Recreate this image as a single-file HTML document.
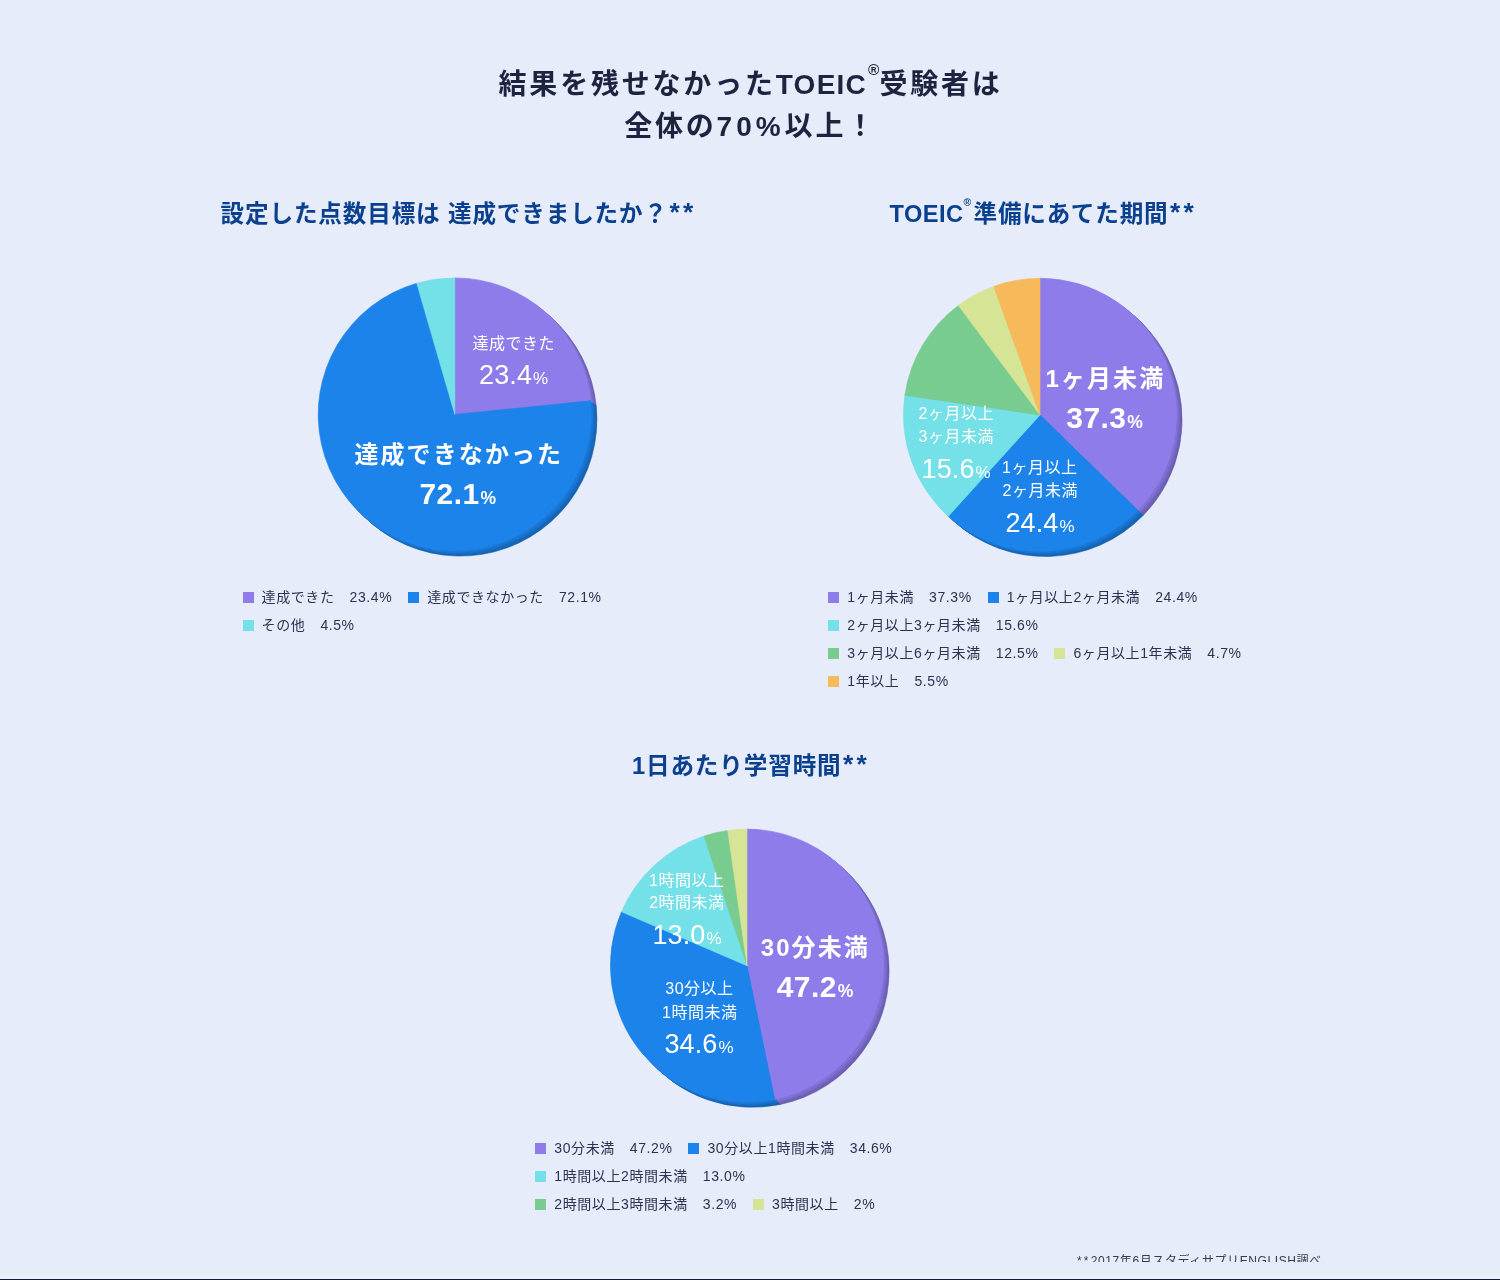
<!DOCTYPE html>
<html lang="ja"><head><meta charset="utf-8"><title>TOEIC</title>
<style>
html,body{margin:0;padding:0}
body{width:1500px;height:1280px;position:relative;overflow:hidden;background:#e6ecfa;font-family:"Liberation Sans", "Noto Sans CJK JP", sans-serif;color:#1d2440}
.bg{position:absolute;left:0;top:0;width:1500px;height:1280px;background:#e6ecfa}
.bar{position:absolute;left:0;top:1262px;width:1500px;height:18px;background:linear-gradient(180deg,#e6ecfa 0,#e2eff4 13px,#e2eff4 14px,#eaf3fd 15px,#eaf3fd 17px,#171d31 17px,#171d31 18px)}
.pies{position:absolute;left:0;top:0}
.t{position:absolute;white-space:nowrap}
.c{transform:translateX(-50%);text-align:center}
.h1{font-size:28px;font-weight:700;line-height:42px;letter-spacing:2.8px;color:#1d2440}
.h1 sup,.h2 sup{font-size:.55em;line-height:0;vertical-align:baseline;position:relative;top:-1.28em;letter-spacing:0;margin:0 0 0 1px}
.h2 sup{font-size:.44em;top:-1.58em;margin:0 2.2px 0 0}
.h2 .la{letter-spacing:.02em}
.la{letter-spacing:.045em}
.h2{font-size:23.6px;font-weight:700;line-height:34px;letter-spacing:.85px;color:#0b408f}
.as{letter-spacing:3.2px;margin-left:1.5px;font-size:1.12em;line-height:0;position:relative;top:-1.5px}
.lb{color:#fff;line-height:30px}
.lb i{font-style:normal}
.lb.s{font-size:16px;letter-spacing:.5px}
.lb.sp{font-size:27px;letter-spacing:.1px}
.lb.sp i{font-size:17px;letter-spacing:0;margin-left:1px}
.lb.b{font-size:24px;font-weight:700;letter-spacing:2.1px}
.lb.bp{font-size:30px;font-weight:700;letter-spacing:.4px}
.lb.bp i{font-size:17.5px;letter-spacing:0;margin-left:1px}
.lg{position:absolute;font-size:14px;line-height:28px;color:#2b3350;white-space:nowrap;letter-spacing:.59px}
.lg .row{height:28px}
.lg .it{display:inline-block;margin-right:16px}
.lg .it b{display:inline-block;width:11px;height:11px;margin-right:8px;vertical-align:-1px}
.lg .it em{font-style:normal;margin-left:15px}
.note{font-size:12px;line-height:16px;color:#333a55;letter-spacing:.6px}
</style></head>
<body>
<div class="bg"></div>
<svg class="pies" width="1500" height="1280" viewBox="0 0 1500 1280">
<path d="M460.30 419.50L460.30 282.90A136.6 136.6 0 0 1 596.21 405.79Z" fill="#695cad" stroke="#695cad" stroke-width="0.6"/>
<path d="M460.30 419.50L596.21 405.79A136.6 136.6 0 1 1 422.19 288.32Z" fill="#1561ad" stroke="#1561ad" stroke-width="0.6"/>
<path d="M460.30 419.50L422.19 288.32A136.6 136.6 0 0 1 460.30 282.90Z" fill="#56a6ac" stroke="#56a6ac" stroke-width="0.6"/>
<path d="M459.20 418.50L459.20 281.90A136.6 136.6 0 0 1 595.11 404.79Z" fill="#6f61b7" stroke="#6f61b7" stroke-width="0.6"/>
<path d="M459.20 418.50L595.11 404.79A136.6 136.6 0 1 1 421.09 287.32Z" fill="#1666b7" stroke="#1666b7" stroke-width="0.6"/>
<path d="M459.20 418.50L421.09 287.32A136.6 136.6 0 0 1 459.20 281.90Z" fill="#5aafb5" stroke="#5aafb5" stroke-width="0.6"/>
<path d="M458.10 417.50L458.10 280.90A136.6 136.6 0 0 1 594.01 403.79Z" fill="#7667c2" stroke="#7667c2" stroke-width="0.6"/>
<path d="M458.10 417.50L594.01 403.79A136.6 136.6 0 1 1 419.99 286.32Z" fill="#176dc2" stroke="#176dc2" stroke-width="0.6"/>
<path d="M458.10 417.50L419.99 286.32A136.6 136.6 0 0 1 458.10 280.90Z" fill="#60bac1" stroke="#60bac1" stroke-width="0.6"/>
<path d="M456.73 416.25L456.73 279.65A136.6 136.6 0 0 1 592.64 402.54Z" fill="#8070d3" stroke="#8070d3" stroke-width="0.6"/>
<path d="M456.73 416.25L592.64 402.54A136.6 136.6 0 1 1 418.61 285.07Z" fill="#1976d3" stroke="#1976d3" stroke-width="0.6"/>
<path d="M456.73 416.25L418.61 285.07A136.6 136.6 0 0 1 456.72 279.65Z" fill="#68cad1" stroke="#68cad1" stroke-width="0.6"/>
<path d="M454.80 414.50L454.80 277.90A136.6 136.6 0 0 1 590.71 400.79Z" fill="#8e7cea" stroke="#8e7cea" stroke-width="0.6"/>
<path d="M454.80 414.50L590.71 400.79A136.6 136.6 0 1 1 416.69 283.32Z" fill="#1c83ea" stroke="#1c83ea" stroke-width="0.6"/>
<path d="M454.80 414.50L416.69 283.32A136.6 136.6 0 0 1 454.80 277.90Z" fill="#74e0e8" stroke="#74e0e8" stroke-width="0.6"/>

<path d="M1045.50 419.90L1045.50 283.30A136.6 136.6 0 0 1 1143.30 515.27Z" fill="#695cad" stroke="#695cad" stroke-width="0.6"/>
<path d="M1045.50 419.90L1143.30 515.27A136.6 136.6 0 0 1 953.88 521.22Z" fill="#1561ad" stroke="#1561ad" stroke-width="0.6"/>
<path d="M1045.50 419.90L953.88 521.22A136.6 136.6 0 0 1 910.32 400.23Z" fill="#56a6ac" stroke="#56a6ac" stroke-width="0.6"/>
<path d="M1045.50 419.90L910.32 400.23A136.6 136.6 0 0 1 963.83 310.41Z" fill="#5a976b" stroke="#5a976b" stroke-width="0.6"/>
<path d="M1045.50 419.90L963.83 310.41A136.6 136.6 0 0 1 999.23 291.38Z" fill="#9ea96e" stroke="#9ea96e" stroke-width="0.6"/>
<path d="M1045.50 419.90L999.23 291.38A136.6 136.6 0 0 1 1045.50 283.30Z" fill="#b68a43" stroke="#b68a43" stroke-width="0.6"/>
<path d="M1044.40 418.90L1044.40 282.30A136.6 136.6 0 0 1 1142.20 514.27Z" fill="#6f61b7" stroke="#6f61b7" stroke-width="0.6"/>
<path d="M1044.40 418.90L1142.20 514.27A136.6 136.6 0 0 1 952.78 520.22Z" fill="#1666b7" stroke="#1666b7" stroke-width="0.6"/>
<path d="M1044.40 418.90L952.78 520.22A136.6 136.6 0 0 1 909.22 399.23Z" fill="#5aafb5" stroke="#5aafb5" stroke-width="0.6"/>
<path d="M1044.40 418.90L909.22 399.23A136.6 136.6 0 0 1 962.73 309.41Z" fill="#5e9f70" stroke="#5e9f70" stroke-width="0.6"/>
<path d="M1044.40 418.90L962.73 309.41A136.6 136.6 0 0 1 998.13 290.38Z" fill="#a6b274" stroke="#a6b274" stroke-width="0.6"/>
<path d="M1044.40 418.90L998.13 290.38A136.6 136.6 0 0 1 1044.40 282.30Z" fill="#c09147" stroke="#c09147" stroke-width="0.6"/>
<path d="M1043.30 417.90L1043.30 281.30A136.6 136.6 0 0 1 1141.10 513.27Z" fill="#7667c2" stroke="#7667c2" stroke-width="0.6"/>
<path d="M1043.30 417.90L1141.10 513.27A136.6 136.6 0 0 1 951.68 519.22Z" fill="#176dc2" stroke="#176dc2" stroke-width="0.6"/>
<path d="M1043.30 417.90L951.68 519.22A136.6 136.6 0 0 1 908.12 398.23Z" fill="#60bac1" stroke="#60bac1" stroke-width="0.6"/>
<path d="M1043.30 417.90L908.12 398.23A136.6 136.6 0 0 1 961.63 308.41Z" fill="#64a978" stroke="#64a978" stroke-width="0.6"/>
<path d="M1043.30 417.90L961.63 308.41A136.6 136.6 0 0 1 997.03 289.38Z" fill="#b1bd7c" stroke="#b1bd7c" stroke-width="0.6"/>
<path d="M1043.30 417.90L997.03 289.38A136.6 136.6 0 0 1 1043.30 281.30Z" fill="#cc9a4c" stroke="#cc9a4c" stroke-width="0.6"/>
<path d="M1041.92 416.65L1041.92 280.05A136.6 136.6 0 0 1 1139.72 512.02Z" fill="#8070d3" stroke="#8070d3" stroke-width="0.6"/>
<path d="M1041.92 416.65L1139.72 512.02A136.6 136.6 0 0 1 950.31 517.97Z" fill="#1976d3" stroke="#1976d3" stroke-width="0.6"/>
<path d="M1041.92 416.65L950.31 517.97A136.6 136.6 0 0 1 906.75 396.98Z" fill="#68cad1" stroke="#68cad1" stroke-width="0.6"/>
<path d="M1041.92 416.65L906.75 396.98A136.6 136.6 0 0 1 960.25 307.16Z" fill="#6db882" stroke="#6db882" stroke-width="0.6"/>
<path d="M1041.92 416.65L960.25 307.16A136.6 136.6 0 0 1 995.65 288.13Z" fill="#c0cd86" stroke="#c0cd86" stroke-width="0.6"/>
<path d="M1041.92 416.65L995.65 288.13A136.6 136.6 0 0 1 1041.92 280.05Z" fill="#dda752" stroke="#dda752" stroke-width="0.6"/>
<path d="M1040.00 414.90L1040.00 278.30A136.6 136.6 0 0 1 1137.80 510.27Z" fill="#8e7cea" stroke="#8e7cea" stroke-width="0.6"/>
<path d="M1040.00 414.90L1137.80 510.27A136.6 136.6 0 0 1 948.38 516.22Z" fill="#1c83ea" stroke="#1c83ea" stroke-width="0.6"/>
<path d="M1040.00 414.90L948.38 516.22A136.6 136.6 0 0 1 904.82 395.23Z" fill="#74e0e8" stroke="#74e0e8" stroke-width="0.6"/>
<path d="M1040.00 414.90L904.82 395.23A136.6 136.6 0 0 1 958.33 305.41Z" fill="#79cc90" stroke="#79cc90" stroke-width="0.6"/>
<path d="M1040.00 414.90L958.33 305.41A136.6 136.6 0 0 1 993.73 286.38Z" fill="#d5e495" stroke="#d5e495" stroke-width="0.6"/>
<path d="M1040.00 414.90L993.73 286.38A136.6 136.6 0 0 1 1040.00 278.30Z" fill="#f6ba5b" stroke="#f6ba5b" stroke-width="0.6"/>

<path d="M752.50 970.70L752.50 834.10A136.6 136.6 0 0 1 780.20 1104.46Z" fill="#695cad" stroke="#695cad" stroke-width="0.6"/>
<path d="M752.50 970.70L780.20 1104.46A136.6 136.6 0 0 1 626.96 916.84Z" fill="#1561ad" stroke="#1561ad" stroke-width="0.6"/>
<path d="M752.50 970.70L626.96 916.84A136.6 136.6 0 0 1 709.47 841.05Z" fill="#56a6ac" stroke="#56a6ac" stroke-width="0.6"/>
<path d="M752.50 970.70L709.47 841.05A136.6 136.6 0 0 1 733.25 835.46Z" fill="#5a976b" stroke="#5a976b" stroke-width="0.6"/>
<path d="M752.50 970.70L733.25 835.46A136.6 136.6 0 0 1 752.50 834.10Z" fill="#9ea96e" stroke="#9ea96e" stroke-width="0.6"/>
<path d="M751.40 969.70L751.40 833.10A136.6 136.6 0 0 1 779.10 1103.46Z" fill="#6f61b7" stroke="#6f61b7" stroke-width="0.6"/>
<path d="M751.40 969.70L779.10 1103.46A136.6 136.6 0 0 1 625.86 915.84Z" fill="#1666b7" stroke="#1666b7" stroke-width="0.6"/>
<path d="M751.40 969.70L625.86 915.84A136.6 136.6 0 0 1 708.37 840.05Z" fill="#5aafb5" stroke="#5aafb5" stroke-width="0.6"/>
<path d="M751.40 969.70L708.37 840.05A136.6 136.6 0 0 1 732.15 834.46Z" fill="#5e9f70" stroke="#5e9f70" stroke-width="0.6"/>
<path d="M751.40 969.70L732.15 834.46A136.6 136.6 0 0 1 751.40 833.10Z" fill="#a6b274" stroke="#a6b274" stroke-width="0.6"/>
<path d="M750.30 968.70L750.30 832.10A136.6 136.6 0 0 1 778.00 1102.46Z" fill="#7667c2" stroke="#7667c2" stroke-width="0.6"/>
<path d="M750.30 968.70L778.00 1102.46A136.6 136.6 0 0 1 624.76 914.84Z" fill="#176dc2" stroke="#176dc2" stroke-width="0.6"/>
<path d="M750.30 968.70L624.76 914.84A136.6 136.6 0 0 1 707.27 839.05Z" fill="#60bac1" stroke="#60bac1" stroke-width="0.6"/>
<path d="M750.30 968.70L707.27 839.05A136.6 136.6 0 0 1 731.05 833.46Z" fill="#64a978" stroke="#64a978" stroke-width="0.6"/>
<path d="M750.30 968.70L731.05 833.46A136.6 136.6 0 0 1 750.30 832.10Z" fill="#b1bd7c" stroke="#b1bd7c" stroke-width="0.6"/>
<path d="M748.92 967.45L748.92 830.85A136.6 136.6 0 0 1 776.63 1101.21Z" fill="#8070d3" stroke="#8070d3" stroke-width="0.6"/>
<path d="M748.92 967.45L776.63 1101.21A136.6 136.6 0 0 1 623.39 913.59Z" fill="#1976d3" stroke="#1976d3" stroke-width="0.6"/>
<path d="M748.92 967.45L623.39 913.59A136.6 136.6 0 0 1 705.90 837.80Z" fill="#68cad1" stroke="#68cad1" stroke-width="0.6"/>
<path d="M748.92 967.45L705.90 837.80A136.6 136.6 0 0 1 729.68 832.21Z" fill="#6db882" stroke="#6db882" stroke-width="0.6"/>
<path d="M748.92 967.45L729.68 832.21A136.6 136.6 0 0 1 748.92 830.85Z" fill="#c0cd86" stroke="#c0cd86" stroke-width="0.6"/>
<path d="M747.00 965.70L747.00 829.10A136.6 136.6 0 0 1 774.70 1099.46Z" fill="#8e7cea" stroke="#8e7cea" stroke-width="0.6"/>
<path d="M747.00 965.70L774.70 1099.46A136.6 136.6 0 0 1 621.46 911.84Z" fill="#1c83ea" stroke="#1c83ea" stroke-width="0.6"/>
<path d="M747.00 965.70L621.46 911.84A136.6 136.6 0 0 1 703.97 836.05Z" fill="#74e0e8" stroke="#74e0e8" stroke-width="0.6"/>
<path d="M747.00 965.70L703.97 836.05A136.6 136.6 0 0 1 727.75 830.46Z" fill="#79cc90" stroke="#79cc90" stroke-width="0.6"/>
<path d="M747.00 965.70L727.75 830.46A136.6 136.6 0 0 1 747.00 829.10Z" fill="#d5e495" stroke="#d5e495" stroke-width="0.6"/>

</svg>
<div class="t h1 c" style="left:750.6px;top:64.4px;">結果を残せなかった<span class="la">TOEIC</span><sup>®</sup>受験者は</div>
<div class="t h1 c" style="left:750.6px;top:106.4px;">全体の<span style="letter-spacing:4px">70%</span>以上！</div>
<div class="t h2 c" style="left:458.5px;top:197px;">設定した点数目標は 達成できましたか？<span class="as">**</span></div>
<div class="t h2 c" style="left:1043.3px;top:197px;"><span class="la">TOEIC</span><sup>®</sup>準備にあてた期間<span class="as">**</span></div>
<div class="t h2 c" style="left:751px;top:749px;">1日あたり学習時間<span class="as">**</span></div>
<div class="t c lb s" id="p1a" style="left:513.80px;top:328.96px">達成できた</div>
<div class="t c lb sp" id="p1a-pct" style="left:513.60px;top:360.00px">23.4<i>%</i></div>
<div class="t c lb b" id="p1b" style="left:458.80px;top:440.20px">達成できなかった</div>
<div class="t c lb bp" id="p1b-pct" style="left:457.80px;top:479.00px">72.1<i>%</i></div>
<div class="t c lb b" id="p2a" style="left:1105.35px;top:363.60px">1ヶ月未満</div>
<div class="t c lb bp" id="p2a-pct" style="left:1104.65px;top:403.40px">37.3<i>%</i></div>
<div class="t c lb s" id="p2b1" style="left:1039.82px;top:452.60px">1ヶ月以上</div>
<div class="t c lb s" id="p2b2" style="left:1040.32px;top:476.20px">2ヶ月未満</div>
<div class="t c lb sp" id="p2b-pct" style="left:1040.00px;top:507.80px">24.4<i>%</i></div>
<div class="t c lb s" id="p2c1" style="left:956.20px;top:399.05px">2ヶ月以上</div>
<div class="t c lb s" id="p2c2" style="left:956.20px;top:422.44px">3ヶ月未満</div>
<div class="t c lb sp" id="p2c-pct" style="left:956.15px;top:454.20px">15.6<i>%</i></div>
<div class="t c lb b" id="p3a" style="left:815.30px;top:933.30px">30分未満</div>
<div class="t c lb bp" id="p3a-pct" style="left:815.05px;top:971.88px">47.2<i>%</i></div>
<div class="t c lb s" id="p3b1" style="left:699.40px;top:974.48px">30分以上</div>
<div class="t c lb s" id="p3b2" style="left:699.75px;top:998.00px">1時間未満</div>
<div class="t c lb sp" id="p3b-pct" style="left:699.05px;top:1029.20px">34.6<i>%</i></div>
<div class="t c lb s" id="p3c1" style="left:686.76px;top:866.00px">1時間以上</div>
<div class="t c lb s" id="p3c2" style="left:686.90px;top:888.44px">2時間未満</div>
<div class="t c lb sp" id="p3c-pct" style="left:687.00px;top:919.60px">13.0<i>%</i></div>
<div class="lg" style="left:242.6px;top:583px"><div class="row"><span class="it"><b style="background:#8e7cea"></b>達成できた<em>23.4%</em></span><span class="it"><b style="background:#1c83ea"></b>達成できなかった<em>72.1%</em></span></div><div class="row"><span class="it"><b style="background:#74e0e8"></b>その他<em>4.5%</em></span></div></div>
<div class="lg" style="left:828.3px;top:583px"><div class="row"><span class="it"><b style="background:#8e7cea"></b>1ヶ月未満<em>37.3%</em></span><span class="it"><b style="background:#1c83ea"></b>1ヶ月以上2ヶ月未満<em>24.4%</em></span></div><div class="row"><span class="it"><b style="background:#74e0e8"></b>2ヶ月以上3ヶ月未満<em>15.6%</em></span></div><div class="row"><span class="it"><b style="background:#79cc90"></b>3ヶ月以上6ヶ月未満<em>12.5%</em></span><span class="it"><b style="background:#d5e495"></b>6ヶ月以上1年未満<em>4.7%</em></span></div><div class="row"><span class="it"><b style="background:#f6ba5b"></b>1年以上<em>5.5%</em></span></div></div>
<div class="lg" style="left:535.3px;top:1134px"><div class="row"><span class="it"><b style="background:#8e7cea"></b>30分未満<em>47.2%</em></span><span class="it"><b style="background:#1c83ea"></b>30分以上1時間未満<em>34.6%</em></span></div><div class="row"><span class="it"><b style="background:#74e0e8"></b>1時間以上2時間未満<em>13.0%</em></span></div><div class="row"><span class="it"><b style="background:#79cc90"></b>2時間以上3時間未満<em>3.2%</em></span><span class="it"><b style="background:#d5e495"></b>3時間以上<em>2%</em></span></div></div>
<div class="t note" style="left:1077px;top:1252.5px"><span style="letter-spacing:2.2px">**</span>2017年6月スタディサプリENGLISH調べ</div>

<div class="bar"></div>
</body></html>
